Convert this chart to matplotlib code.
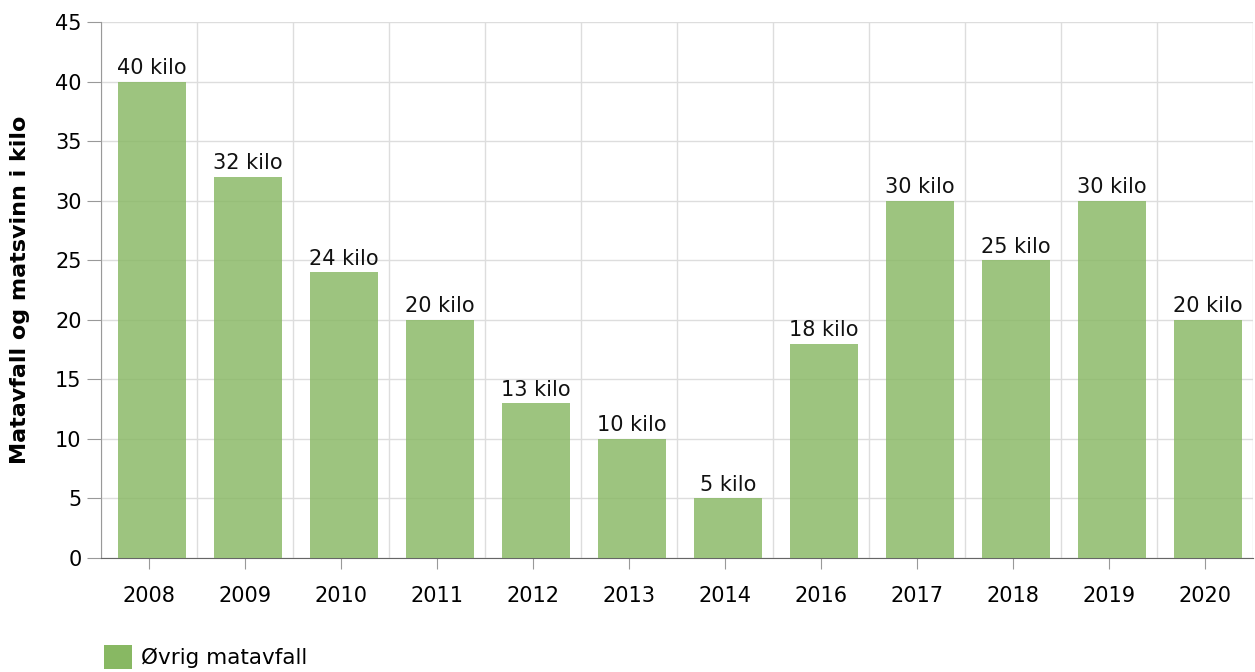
import matplotlib
matplotlib.use("Agg")
import matplotlib.pyplot as plt
import numpy as np
from matplotlib.patches import Patch

years = ["2008", "2009", "2010", "2011", "2012", "2013", "2014", "2016", "2017", "2018", "2019", "2020"]
values = [40, 32, 24, 20, 13, 10, 5, 18, 30, 25, 30, 20]
labels = ["%d kilo" % v for v in values]

plt.rcParams['font.family'] = ['DejaVu Sans']
fig = plt.figure(figsize=(12.55, 6.72), dpi=100)
ax = fig.add_axes([101/1255, 1 - 558/672, (1253-101)/1255, (558-22)/672])

x = np.arange(len(years))
fs = 15
# bars sit a little right of the tick in the original
bars = ax.bar(x + 0.03, values, width=0.71, color="#88b863", alpha=0.82, zorder=3)
for xi, v, lab in zip(x, values, labels):
    ax.text(xi + 0.03, v + 0.3, lab, ha="center", va="bottom", fontsize=fs, color="#111111", zorder=5)

ax.set_xlim(-0.5, len(years) - 0.5)
ax.set_ylim(0, 45)
ax.set_yticks(np.arange(0, 46, 5))
ax.set_xticks(x)
ax.set_xticklabels(years)
ax.set_xticks(np.arange(-0.5, len(years), 1), minor=True)
ax.grid(True, which="minor", axis="x", color="#dddddd", linewidth=1, zorder=4)
ax.grid(True, which="major", axis="y", color="#dddddd", linewidth=1, zorder=4)
ax.tick_params(axis="x", which="minor", length=0)
ax.tick_params(axis="x", which="major", length=8, color="#999999", pad=12, labelsize=fs)
ax.tick_params(axis="y", length=10, color="#999999", pad=4, labelsize=fs)

for s in ["top", "right"]:
    ax.spines[s].set_visible(False)
ax.spines["left"].set_color("#999999")
ax.spines["bottom"].set_color("#666666")

ax.set_ylabel("Matavfall og matsvinn i kilo", fontsize=16, fontweight="bold", labelpad=18)

fig.legend(handles=[Patch(facecolor="#88b863", edgecolor="none")], labels=["Øvrig matavfall"],
           loc="lower left", bbox_to_anchor=(85/1255, -16/672), frameon=False, fontsize=15.5,
           handlelength=1.3, handleheight=1.3, handletextpad=0.4)

plt.savefig("out.png", dpi=100)
plt.close()
